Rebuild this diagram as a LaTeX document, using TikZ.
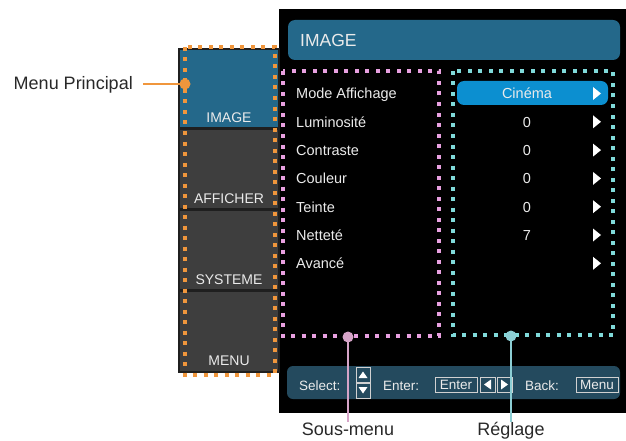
\documentclass[tikz,border=0pt]{standalone}
\usepackage{fontspec}
\setmainfont{Liberation Sans}
\usetikzlibrary{positioning}

\definecolor{panelblue}{RGB}{36,104,138}
\definecolor{footblue}{RGB}{36,74,94}
\definecolor{hlblue}{RGB}{12,143,208}
\definecolor{tabgray}{RGB}{62,62,62}
\definecolor{dotorange}{RGB}{240,150,60}
\definecolor{dotpink}{RGB}{232,160,224}
\definecolor{dotcyan}{RGB}{128,218,218}
\definecolor{linepink}{RGB}{214,164,200}
\definecolor{linecyan}{RGB}{140,206,212}
\definecolor{labelgray}{RGB}{40,40,40}
\definecolor{menutext}{RGB}{235,235,235}

\tikzset{
  dotframe/.style={line width=4pt, dash pattern=on 4pt off 6.5pt},
  tablabel/.style={text=menutext, inner sep=0pt, anchor=base, font=\fontsize{14}{16}\selectfont},
  item/.style={text=menutext, inner sep=0pt, anchor=base west, font=\fontsize{14.5}{16}\selectfont},
  value/.style={text=menutext, inner sep=0pt, anchor=base, font=\fontsize{14.5}{16}\selectfont},
  callout/.style={text=labelgray, inner sep=0pt, font=\fontsize{18}{20}\selectfont},
  keybox/.style={draw=white!82!black, line width=1pt},
  keytext/.style={text=menutext, inner sep=0pt, font=\fontsize{13.5}{15}\selectfont}
}

\begin{document}
\begin{tikzpicture}[x=1pt,y=-1pt]
\useasboundingbox (0,0) rectangle (626,441);

% black screen
\fill[black] (279,9) rectangle (626,413);
\fill[panelblue, rounded corners=7pt] (288,20) rectangle (620,60);
\node[text=menutext, inner sep=0pt, anchor=base west, font=\fontsize{17.5}{19}\selectfont] (title) at (300,47) {IMAGE};

% main menu column
\begin{scope}
\fill[black!88] (178,48) rectangle (280,373);
\fill[panelblue] (180,50) rectangle (278,127);
\fill[tabgray] (180,130) rectangle (278,208);
\fill[tabgray] (180,211) rectangle (278,289);
\fill[tabgray] (180,292) rectangle (278,371);

\node[tablabel] (tabimage) at (229,122) {IMAGE};
\node[tablabel] (tabafficher) at (229,203) {AFFICHER};
\node[tablabel] (tabsysteme) at (229,284) {SYSTEME};
\node[tablabel] (tabmenu) at (229,365) {MENU};
\end{scope}

% sub menu and values
\fill[hlblue, rounded corners=7pt] (457,81) rectangle (608,105);
\foreach \name/\val [count=\i from 0] in {Mode Affichage/Cinéma, Luminosité/0, Contraste/0, Couleur/0, Teinte/0, Netteté/7, Avancé/{}}{
  \node[item] (item\i) at (296,99+28.3*\i) {\name};
  \node[value] (val\i) at (527,99+28.3*\i) {\val};
  \fill[white] (593,87+28.3*\i) -- (601,93.5+28.3*\i) -- (593,100+28.3*\i) -- cycle;
}

% footer
\fill[footblue, rounded corners=6pt] (287,366) rectangle (620,399);
\node[keytext, anchor=base west] (select) at (299,390) {Select:};
\draw[keybox] (356,367) rectangle (370,382);
\fill[white] (358.5,378) -- (367.5,378) -- (363,371.5) -- cycle;
\draw[keybox] (356,383) rectangle (370,398);
\fill[white] (358.5,387) -- (367.5,387) -- (363,393.5) -- cycle;
\node[keytext, anchor=base west] (enter) at (383,390) {Enter:};
\draw[keybox] (435,377) rectangle (477,392);
\node[keytext, anchor=base] (enterkey) at (456,389.5) {Enter};
\draw[keybox] (480,377) rectangle (495,392);
\fill[white] (491,379.5) -- (491,389.5) -- (484,384.5) -- cycle;
\draw[keybox] (497,377) rectangle (512,392);
\fill[white] (501,379.5) -- (501,389.5) -- (508,384.5) -- cycle;
\node[keytext, anchor=base west] (back) at (525,390) {Back:};
\draw[keybox] (576,377) rectangle (618,392);
\node[keytext, anchor=base] (menukey) at (597,389.5) {Menu};

% dotted frames
\draw[dotframe, dotorange] (185,47) rectangle (275,375);
\draw[dotframe, dotpink] (283,71) rectangle (439,336);
\draw[dotframe, dotcyan] (453,71) rectangle (613,335);

% callouts
\coordinate (mainpt) at (185,84);
\coordinate (subpt) at (348,337);
\coordinate (setpt) at (511,336);

\node[callout, anchor=base east] (mainlbl) at (133,90) {Menu Principal};
\node[callout, anchor=base] (sublbl) at (348,435) {Sous-menu};
\node[callout, anchor=base] (setlbl) at (511,435) {Réglage};

\draw[dotorange, line width=2pt, shorten <=10pt] (mainlbl.east |- mainpt) -- (mainpt);
\fill[dotorange] (mainpt) circle (5.5pt);
\draw[linepink, line width=1.5pt] (subpt) -- (sublbl.north);
\fill[linepink] (subpt) circle (5.5pt);
\draw[linecyan, line width=1.5pt] (setpt) -- (setlbl.north);
\fill[linecyan] (setpt) circle (5.5pt);

\end{tikzpicture}
\end{document}
